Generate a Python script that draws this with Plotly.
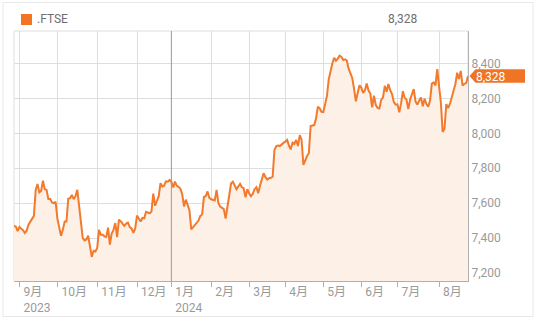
import pandas as pd
import plotly.graph_objects as go

# ---------------- data ----------------
series_name = ".FTSE"
start_date = "2023-08-29"
end_date = "2024-08-23"
uk_holidays = ["2023-12-25", "2023-12-26", "2024-01-01", "2024-03-29",
               "2024-04-01", "2024-05-06", "2024-05-27"]

ftse_close = [
    7470, 7466, 7440,
    # Sep 2023
    7463, 7453, 7445, 7429, 7442, 7476, 7496, 7514, 7527, 7676, 7710, 7661,
    7670, 7729, 7680, 7676, 7623, 7625, 7604, 7600, 7608,
    # Oct
    7510, 7470, 7413, 7447, 7495, 7495, 7625, 7629, 7647, 7623, 7640, 7676,
    7585, 7495, 7400, 7386, 7392, 7413, 7352, 7292, 7327, 7323,
    # Nov
    7343, 7447, 7419, 7419, 7410, 7406, 7460, 7362, 7426, 7447, 7486, 7405,
    7505, 7497, 7483, 7470, 7483, 7488, 7463, 7455, 7429, 7455,
    # Dec
    7529, 7514, 7495, 7515, 7513, 7550, 7544, 7542, 7552, 7655, 7585, 7615,
    7640, 7714, 7695, 7700, 7725, 7723, 7733,
    # Jan 2024
    7722, 7690, 7723, 7699, 7694, 7683, 7651, 7581, 7620, 7595, 7560, 7450,
    7463, 7470, 7486, 7500, 7527, 7535, 7635, 7640, 7667, 7630,
    # Feb
    7622, 7617, 7615, 7676, 7600, 7581, 7572, 7566, 7512, 7571, 7638, 7712,
    7723, 7700, 7680, 7695, 7710, 7691, 7684, 7634, 7680,
    # Mar
    7657, 7640, 7653, 7680, 7691, 7657, 7700, 7743, 7771, 7749, 7735, 7743,
    7745, 7752, 7905, 7927, 7930, 7927, 7939, 7945,
    # Apr
    7952, 7962, 7930, 7908, 7946, 7939, 7962, 7927, 7990, 7962, 7819, 7847,
    7870, 7886, 8042, 8045, 8047, 8086, 8152, 8143, 8123,
    # May
    8121, 8172, 8213, 8309, 8362, 8400, 8433, 8415, 8428, 8445, 8438, 8420,
    8424, 8416, 8370, 8339, 8317, 8254, 8183, 8231, 8275,
    # Jun
    8262, 8232, 8246, 8285, 8245, 8228, 8148, 8215, 8163, 8146, 8142, 8191,
    8205, 8272, 8238, 8282, 8247, 8225, 8179, 8164,
    # Jul
    8166, 8121, 8171, 8241, 8204, 8193, 8139, 8193, 8224, 8253, 8182, 8165,
    8187, 8205, 8155, 8198, 8167, 8153, 8186, 8285, 8292, 8274, 8368,
    # Aug
    8283, 8175, 8008, 8026, 8167, 8145, 8168, 8210, 8235, 8281, 8347, 8311,
    8357, 8273, 8283, 8288, 8328,
]

month_labels = ["9月<br>2023", "10月", "11月", "12月", "1月<br>2024", "2月",
                "3月", "4月", "5月", "6月", "7月", "8月"]
y_ticks = [7200, 7400, 7600, 7800, 8000, 8200, 8400]
y_range = [7154, 8586]

# trading-day calendar (categories)
days = pd.bdate_range(start_date, end_date)
days = days[~days.isin(pd.to_datetime(uk_holidays))]
dates = [d.strftime("%Y-%m-%d") for d in days]
n = min(len(dates), len(ftse_close))
dates = dates[:n]
ftse_close = ftse_close[:n]

# first trading day of each month (Sep 2023 .. Aug 2024)
month_first = []
seen = set()
for d in days[:n]:
    key = (d.year, d.month)
    if key not in seen:
        seen.add(key)
        month_first.append(d.strftime("%Y-%m-%d"))
month_first = month_first[1:]  # skip partial Aug 2023

# ---------------- style ----------------
ORANGE = "#F27A2C"
FILL = "#FDF0E7"
GRID = "#dedede"
AXIS = "#b0b0b0"
TXT = "#9a9a9a"
FONT = "Roboto, 'Noto Sans CJK JP', sans-serif"

L, R, T, B = 14, 68, 31, 37
W, H = 536, 318
PW, PH = W - L - R, H - T - B


def px_x(p):
    return (p - L) / PW


def px_y(p):
    return (H - B - p) / PH


fig = go.Figure()
fig.add_trace(go.Scatter(
    x=dates, y=ftse_close, mode="lines",
    line=dict(color=ORANGE, width=2),
    fill="tozeroy", fillcolor=FILL,
    name=series_name, hoverinfo="x+y",
))

last = ftse_close[-1]
last_txt = f"{last:,}"

shapes = [
    # outer card border
    dict(type="rect", xref="paper", yref="paper",
         x0=px_x(3), x1=px_x(533), y0=px_y(316.5), y1=px_y(2.5),
         line=dict(color="#e8e8e8", width=1), layer="below"),
    # plot frame (top / left)
    dict(type="rect", xref="paper", yref="paper", x0=0, x1=1, y0=0, y1=1,
         line=dict(color=GRID, width=1), layer="below"),
    # year boundary line
    dict(type="line", xref="x", yref="paper", x0=month_first[4], x1=month_first[4],
         y0=0, y1=1, line=dict(color="#9c9c9c", width=1), layer="above"),
    # legend square
    dict(type="rect", xref="paper", yref="paper",
         x0=px_x(21), x1=px_x(32), y0=px_y(25), y1=px_y(14),
         fillcolor="#F47521", line=dict(width=0)),
]

# last value pointer
y_half = 6.7 / PH * (y_range[1] - y_range[0])
x_tip = px_x(469.5)
x_body = px_x(475.5)
x_end = px_x(525)
shapes.append(dict(
    type="path", xref="paper", yref="y",
    path=(f"M {x_tip},{last} L {x_body},{last + y_half} L {x_end},{last + y_half} "
          f"L {x_end},{last - y_half} L {x_body},{last - y_half} Z"),
    fillcolor="#EF7426", line=dict(width=0), layer="above"))

annotations = [
    dict(xref="paper", yref="paper", x=px_x(35), y=px_y(19.5), text=series_name,
         showarrow=False, xanchor="left", yanchor="middle",
         font=dict(family=FONT, size=12, color="#6e6e6e")),
    dict(xref="paper", yref="paper", x=px_x(420), y=px_y(19.5), text=last_txt,
         showarrow=False, xanchor="right", yanchor="middle",
         font=dict(family=FONT, size=12, color="#6e6e6e")),
    dict(xref="paper", yref="y", x=px_x(475), y=last, text=last_txt,
         showarrow=False, xanchor="left", yanchor="middle", yshift=-1,
         borderpad=0,
         font=dict(family=FONT, size=12, color="#ffffff")),
]

fig.update_layout(
    width=W, height=H,
    margin=dict(l=L, r=R, t=T, b=B, autoexpand=False),
    paper_bgcolor="white", plot_bgcolor="white",
    showlegend=False,
    font=dict(family=FONT, size=12, color=TXT),
    shapes=shapes, annotations=annotations,
    xaxis=dict(
        type="category", range=[0, n - 1],
        tickmode="array", tickvals=month_first, ticktext=month_labels,
        tickangle=0, automargin=False,
        showgrid=True, gridcolor=GRID, gridwidth=1,
        ticks="outside", ticklen=5, tickcolor=AXIS,
        showline=True, linecolor=AXIS, linewidth=1,
        ticklabelposition="outside right",
        ticklabelstandoff=0, ticklabelshift=3,
        tickfont=dict(family=FONT, size=12, color=TXT),
        fixedrange=True,
    ),
    yaxis=dict(
        side="right", range=y_range, automargin=False,
        tickmode="array", tickvals=y_ticks, tickformat=",",
        showgrid=True, gridcolor=GRID, gridwidth=1,
        zeroline=False, ticks="",
        showline=True, linecolor=AXIS, linewidth=1,
        tickfont=dict(family=FONT, size=12, color=TXT),
        fixedrange=True,
    ),
)

fig.write_html("out.html", config={"displayModeBar": False})
